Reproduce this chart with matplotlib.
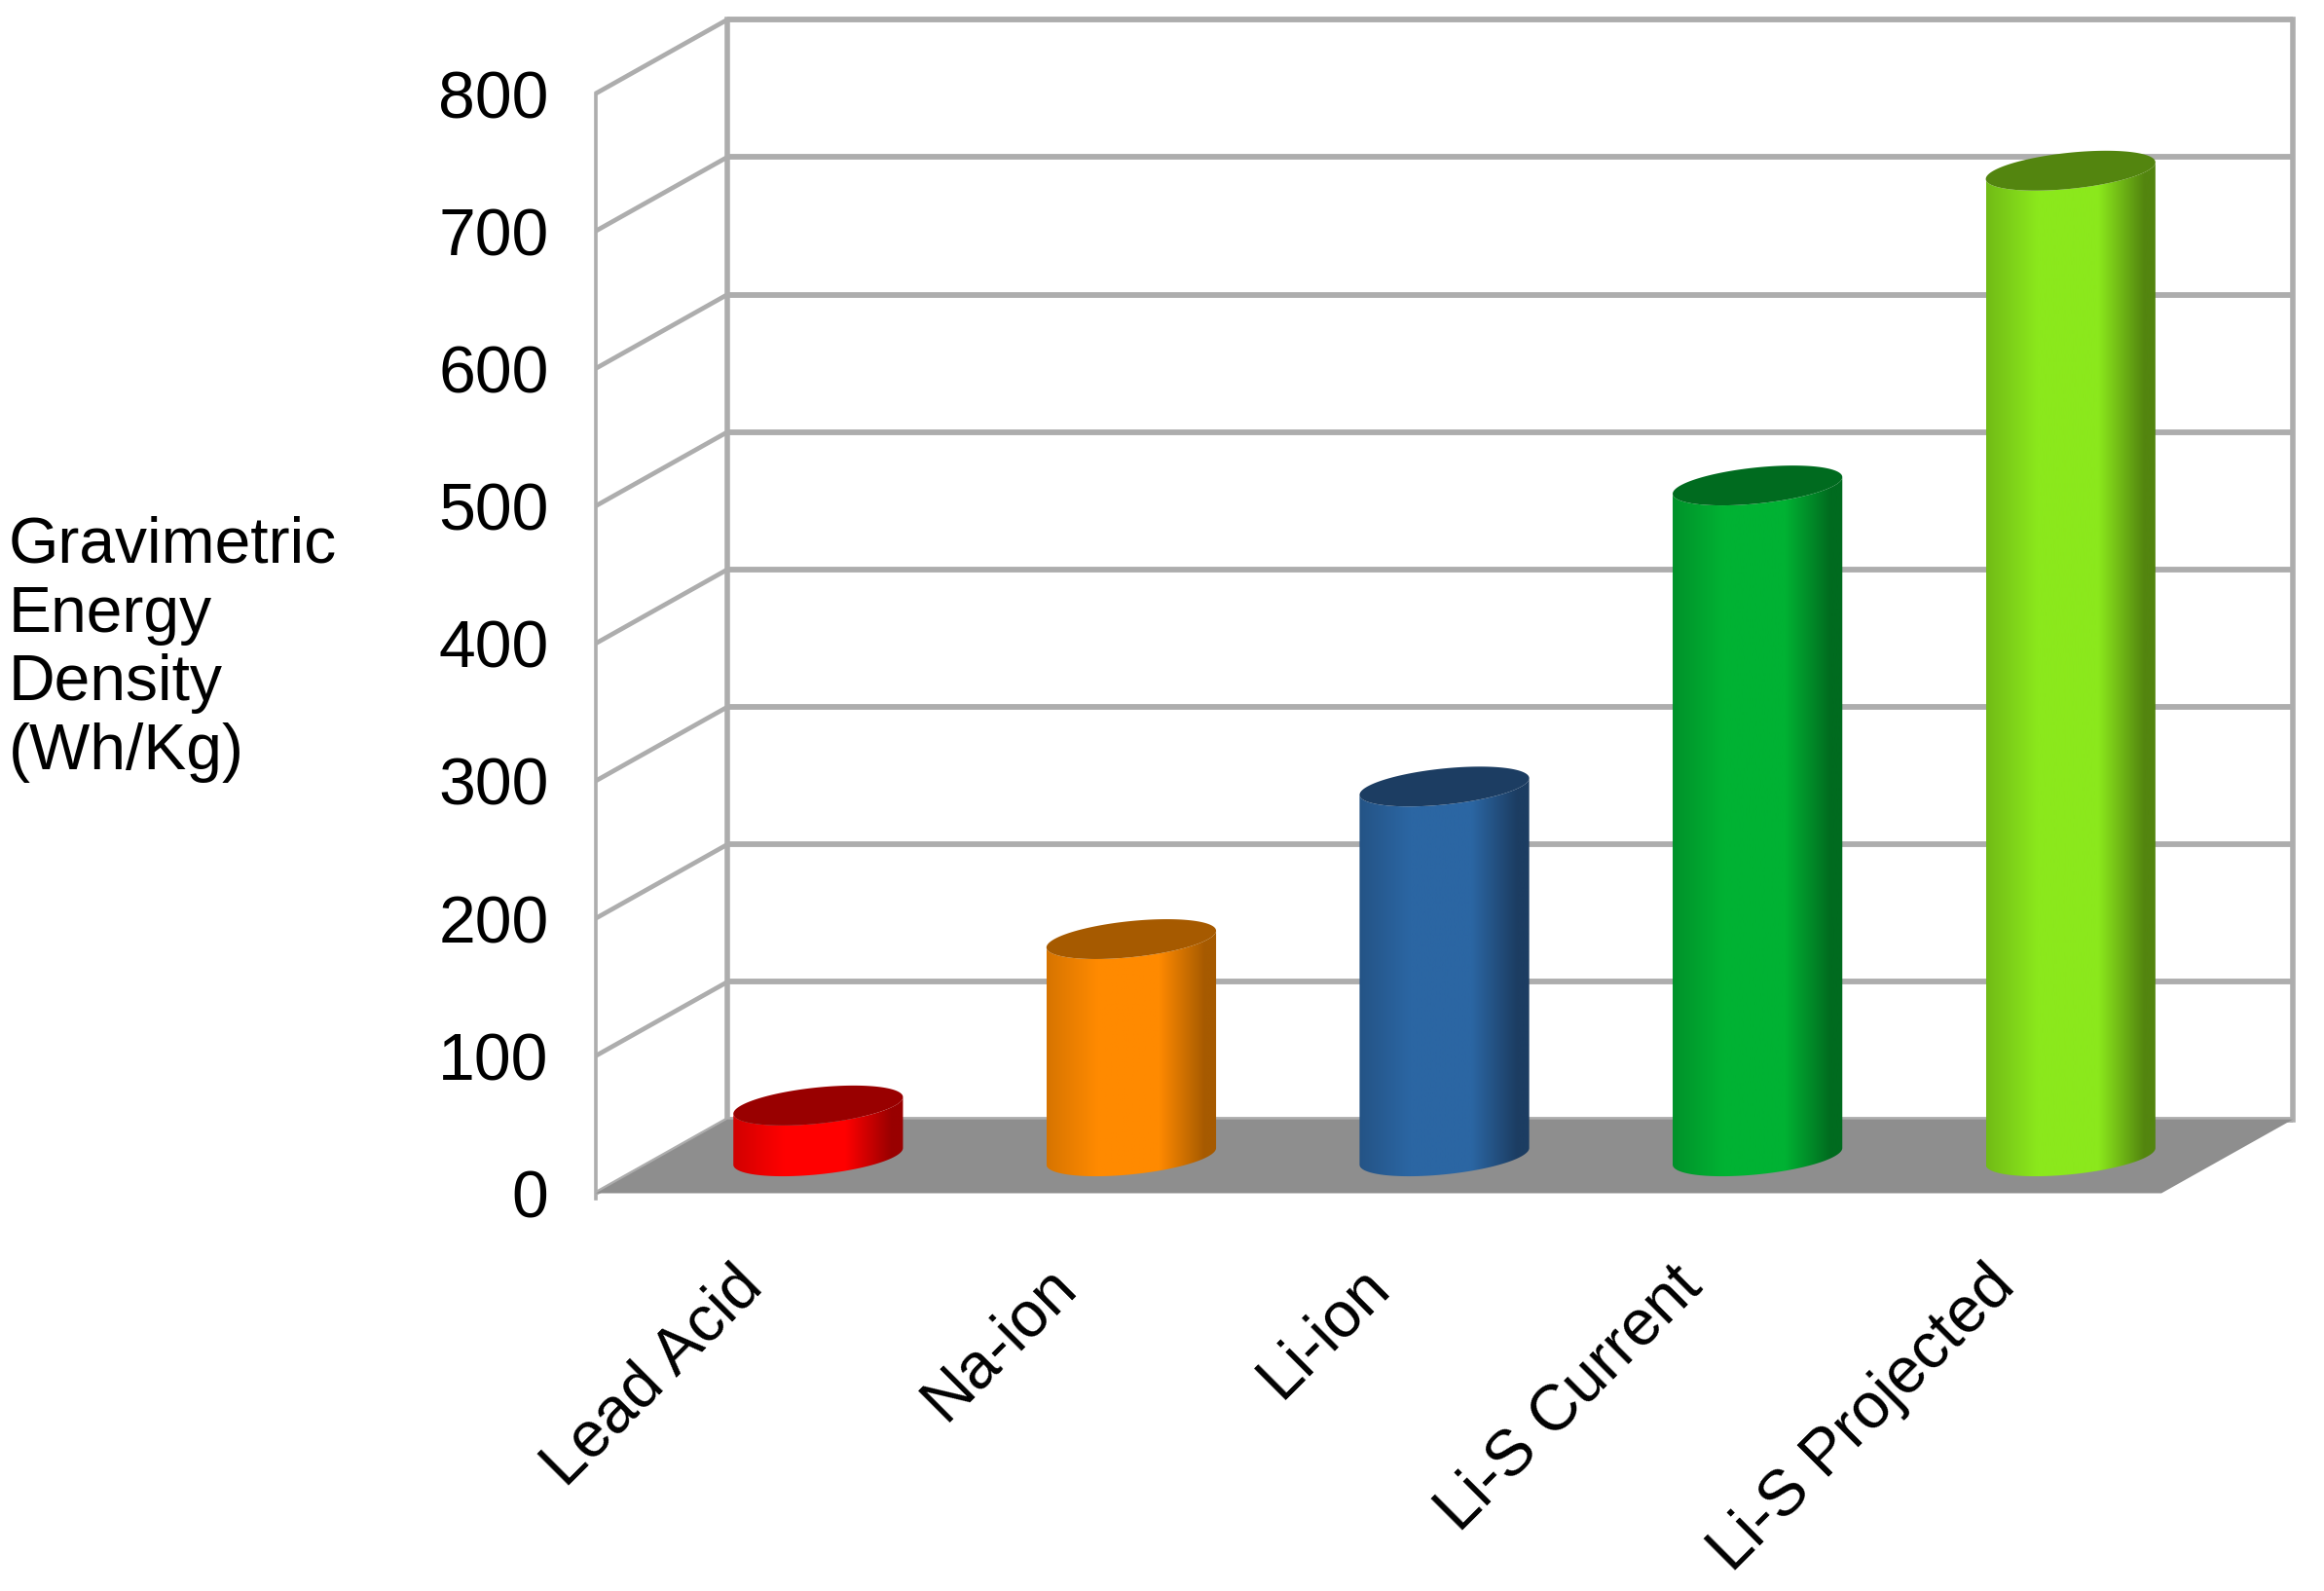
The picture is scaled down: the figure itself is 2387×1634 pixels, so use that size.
import numpy as np
import matplotlib
matplotlib.use("Agg")
import matplotlib.pyplot as plt
from matplotlib.patches import Polygon
from matplotlib.colors import to_rgb
from matplotlib.transforms import ScaledTranslation

categories = ["Lead Acid", "Na-ion", "Li-ion", "Li-S Current", "Li-S Projected"]
values = [37, 158, 269, 488, 717]
body_colors = ["#ff0000", "#ff8a00", "#2b66a3", "#00b233", "#8be81c"]
top_colors = ["#990000", "#a65a00", "#1c3d62", "#006b1f", "#53850f"]
y_ticks = [0, 100, 200, 300, 400, 500, 600, 700, 800]
y_label = "Gravimetric\nEnergy\nDensity\n(Wh/Kg)"

W, H = 2387, 1634
plt.rcParams["font.family"] = ["Liberation Sans", "DejaVu Sans"]
fig = plt.figure(figsize=(W / 100, H / 100), dpi=100, facecolor="white")
L, R, B, T = 612, 2220, 1225.5, 96
ax = fig.add_axes([L / W, 1 - B / H, (R - L) / W, (B - T) / H])
ax.set_xlim(0, 5)
ax.set_ylim(0, 800)
for s in ax.spines.values():
    s.set_visible(False)
ax.patch.set_visible(False)

DX, DY = 0.42, 53.7   # depth of the box in data units
GRID = "#adadad"
for v in y_ticks:
    ax.plot([DX, 5 + DX], [v + DY, v + DY], color=GRID, lw=4.2, clip_on=False, zorder=1, solid_capstyle="butt")
    ax.plot([0, DX], [v, v + DY], color=GRID, lw=3.4, clip_on=False, zorder=1, solid_capstyle="butt")
ax.plot([0, 0], [-4, 800], color=GRID, lw=2.6, clip_on=False, zorder=1)
ax.plot([DX, DX], [DY, 800 + DY], color=GRID, lw=4.0, clip_on=False, zorder=1)
ax.plot([5 + DX, 5 + DX], [DY, 800 + DY], color=GRID, lw=4.0, clip_on=False, zorder=1)
ax.add_patch(Polygon([(0, 0), (5, 0), (5 + DX, DY), (DX, DY)], closed=True, fc="#8e8e8e", ec="none",
                     clip_on=False, zorder=2))

# Sheared cylinders: about half as deep as the box
A = 0.246
BX = DX * 0.27
BY = DY * 0.27
t_ext = np.arctan2(BX, A)
stops = [0, 0.3, 0.66, 0.93, 1]
mixes = [0.45, 0, 0, 1, 1]
u = np.linspace(0, 1, 256)
mix = np.interp(u, stops, mixes)


def ellipse(cx, cy, t):
    return cx + A * np.cos(t) + BX * np.sin(t), cy + BY * np.sin(t)


half_w = np.hypot(A, BX)
for i, (val, body, top) in enumerate(zip(values, body_colors, top_colors)):
    cx = i + 0.5 + DX / 2
    y0 = DY / 2
    y1 = y0 + val
    t_low = np.linspace(t_ext - np.pi, t_ext, 80)  # left extreme to right extreme, front side
    xb, yb = ellipse(cx, y0, t_low)
    xt, yt = ellipse(cx, y1, t_low[::-1])
    pts = np.column_stack([np.r_[xb, xt], np.r_[yb, yt]])
    sil = Polygon(pts, closed=True, transform=ax.transData, fc="none", ec="none")
    ax.add_patch(sil)
    c0, c1 = np.array(to_rgb(body)), np.array(to_rgb(top))
    grad = (c0[None, :] * (1 - mix[:, None]) + c1[None, :] * mix[:, None])[None, :, :]
    im = ax.imshow(grad, extent=[cx - half_w, cx + half_w, y0 - BY * 1.2, y1 + BY * 1.2],
                   aspect="auto", origin="lower", zorder=3, interpolation="bilinear")
    im.set_clip_path(sil)
    tt = np.linspace(0, 2 * np.pi, 160)
    xe, ye = ellipse(cx, y1, tt)
    ax.add_patch(Polygon(np.column_stack([xe, ye]), closed=True, fc=top, ec="none", zorder=4, clip_on=False))

ax.set_xlim(0, 5)
ax.set_ylim(0, 800)

ax.set_yticks(y_ticks)
ax.set_yticklabels([str(v) for v in y_ticks], fontsize=49, color="black")
ax.tick_params(axis="y", length=0, pad=35)
ax.set_xticks(np.arange(len(categories)) + 0.5)
ax.set_xticklabels(categories, fontsize=47.5, rotation=45, ha="right", rotation_mode="anchor", va="top", color="black")
ax.tick_params(axis="x", length=0, pad=46)
offset = ScaledTranslation(-21 / 100, 0, fig.dpi_scale_trans)
for lab in ax.get_xticklabels():
    lab.set_transform(lab.get_transform() + offset)

ax.set_ylabel(y_label, rotation=0, ha="left", va="center", fontsize=47.5, multialignment="left", linespacing=1.18)
ax.yaxis.set_label_coords((6 - 402) / 1056, (805 - 438) / 742)

fig.savefig("out.png", dpi=100, facecolor="white")
